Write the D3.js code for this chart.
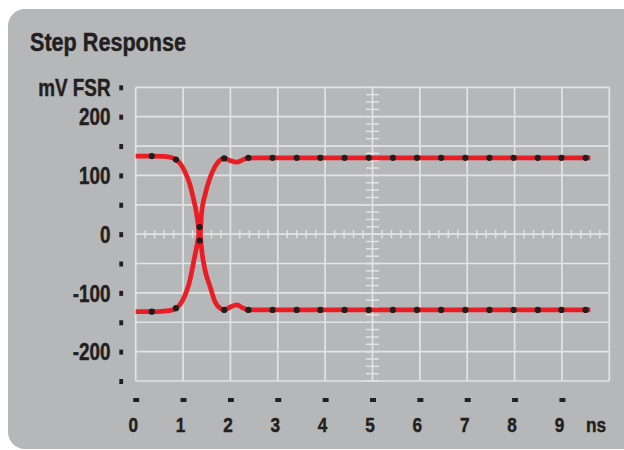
<!DOCTYPE html>
<html><head><meta charset="utf-8">
<script src="https://cdn.jsdelivr.net/npm/d3@7"></script>
<style>
html,body{margin:0;padding:0;background:#fff;}
text{font-family:'Liberation Sans',Arial,sans-serif;font-weight:bold;fill:#231f20;stroke:#231f20;stroke-width:0.45px;}
</style></head>
<body><svg id="c" width="624" height="450"></svg>
<script>
// ---- data ----
const title = "Step Response";
const yUnit = "mV FSR";
const xUnit = "ns";
const xTickValues = [0,1,2,3,4,5,6,7,8,9];
const yTickValues = [-250,-200,-150,-100,-50,0,50,100,150,200,250];
const yTickLabels = {"-200":"-200","-100":"-100","0":"0","100":"100","200":"200","250":yUnit};
// traces (time ns, value mV)
const upperTime  = [0,0.34,0.6,0.75,0.845,0.95,1.042,1.147,1.217,1.289,1.33,1.35,1.37,1.394,1.464,1.569,1.675,1.78,1.872,2.0,2.134,2.26,2.366,3,4,5,6,7,8,9,9.6];
const upperValue = [133,133,132.5,130.5,127.4,119,106,84,61,33,8,-11,10,38,67,96,115,126,129,125,122.5,126.5,129.5,130,130,130,130,130,130,130,130];
const lowerTime  = [0,0.34,0.6,0.75,0.845,0.95,1.042,1.147,1.217,1.289,1.33,1.35,1.37,1.394,1.464,1.569,1.675,1.78,1.872,2.0,2.134,2.26,2.366,3,4,5,6,7,8,9,9.6];
const lowerValue = [-132,-132,-131,-129.5,-126.5,-118,-104,-78,-50,-21,-3,12,-6,-27,-61,-89,-115,-126,-129,-124,-120.5,-125.5,-129,-129,-129,-129,-129,-129,-129,-129,-129];
// sample dots
const dotTime  = [0.34,0.85,1.35,1.87,2.38,2.89,3.40,3.90,4.41,4.92,5.43,5.94,6.45,6.96,7.47,7.98,8.49,8.99,9.50];
const upperDot = [133,127,-11,129,130,130,130,130,130,130,130,130,130,130,130,130,130,130,130];
const lowerDot = [-132,-126,12,-129,-129,-129,-129,-129,-129,-129,-129,-129,-129,-129,-129,-129,-129,-129,-129];

// ---- drawing ----
const svg = d3.select("#c");
const panel = "#b6b7b9", grid = "#e3e3e4", red = "#ea1c24", dotC = "#1e1e1e";
const NARROW = 0.82;
function narrow(sel){ sel.each(function(){ const w=this.getComputedTextLength(); if(w>0){ this.setAttribute("textLength", (w*NARROW).toFixed(2)); this.setAttribute("lengthAdjust","spacingAndGlyphs"); } }); }

svg.append("rect").attr("x",8).attr("y",9).attr("width",632).attr("height",440).attr("rx",17).attr("fill",panel);
svg.append("text").attr("x",30).attr("y",51).attr("font-size",25.5).attr("textLength",156).attr("lengthAdjust","spacingAndGlyphs").text(title);

const x = d3.scaleLinear().domain([0,10]).range([135.7,609.3]);
const y = d3.scaleLinear().domain([-250,250]).range([381,87.3]);

const g = svg.append("g");
// grid
g.selectAll(".vg").data(d3.range(0,11,1)).join("line")
  .attr("x1",d=>x(d)).attr("x2",d=>x(d)).attr("y1",y(250)).attr("y2",y(-250))
  .attr("stroke",grid).attr("stroke-width",1.7);
g.selectAll(".hg").data(d3.range(-250,251,50)).join("line")
  .attr("y1",d=>y(d)).attr("y2",d=>y(d)).attr("x1",x(0)).attr("x2",x(10))
  .attr("stroke",grid).attr("stroke-width",1.7);
// center cross minor ticks
g.selectAll(".mx").data(d3.range(0,10.01,0.2).filter(d=>Math.abs(d-Math.round(d))>0.01)).join("line")
  .attr("x1",d=>x(d)).attr("x2",d=>x(d)).attr("y1",y(0)-4).attr("y2",y(0)+4)
  .attr("stroke",grid).attr("stroke-width",1.5);
g.selectAll(".my").data(d3.range(-250,250.1,12.5)).join("line")
  .attr("y1",d=>y(d)).attr("y2",d=>y(d)).attr("x1",x(5)-6.5).attr("x2",x(5)+6.5)
  .attr("stroke",grid).attr("stroke-width",1.5);

// y axis
const yAxis = d3.axisLeft(y).tickValues(yTickValues).tickSize(0).tickPadding(0)
  .tickFormat(d=>yTickLabels[String(d)]||"");
const ya = svg.append("g").attr("transform","translate(110.5,0)").call(yAxis);
ya.select(".domain").remove();
ya.attr("font-family",null).attr("font-size",null);
ya.selectAll("text").attr("font-size",23).attr("dy","0.36em").attr("fill","#231f20").call(narrow);
ya.selectAll(".tick").append("rect").attr("x",8.8).attr("y",-2.5).attr("width",3.8).attr("height",5).attr("fill","#231f20");

// x axis
const xAxis = d3.axisBottom(x).tickValues(xTickValues).tickSize(0).tickPadding(0).tickFormat(d3.format("d"));
const xa = svg.append("g").attr("transform","translate(0,400)").call(xAxis);
xa.select(".domain").remove();
xa.attr("font-family",null).attr("font-size",null);
xa.selectAll("text").attr("font-size",21).attr("dy",null).attr("y",31.5).attr("x",-3).attr("fill","#231f20").call(narrow);
xa.selectAll(".tick").append("rect").attr("x",-3).attr("y",-2).attr("width",6).attr("height",4).attr("fill","#231f20");
svg.append("text").attr("x",596).attr("y",431.5).attr("text-anchor","middle").attr("font-size",21).text(xUnit).call(narrow);

// traces
const line = d3.line().x(d=>x(d[0])).y(d=>y(d[1])).curve(d3.curveMonotoneX);
const upper = upperTime.map((t,i)=>[t,upperValue[i]]);
const lower = lowerTime.map((t,i)=>[t,lowerValue[i]]);
[upper,lower].forEach(s=>{
  svg.append("path").attr("d",line(s)).attr("fill","none").attr("stroke",red)
    .attr("stroke-width",4.7).attr("stroke-linejoin","round");
});
const dots = dotTime.map((t,i)=>[t,upperDot[i]]).concat(dotTime.map((t,i)=>[t,lowerDot[i]]));
svg.selectAll(".dot").data(dots).join("circle")
  .attr("cx",d=>x(d[0])).attr("cy",d=>y(d[1])).attr("r",3.1).attr("fill",dotC);
</script></body></html>
